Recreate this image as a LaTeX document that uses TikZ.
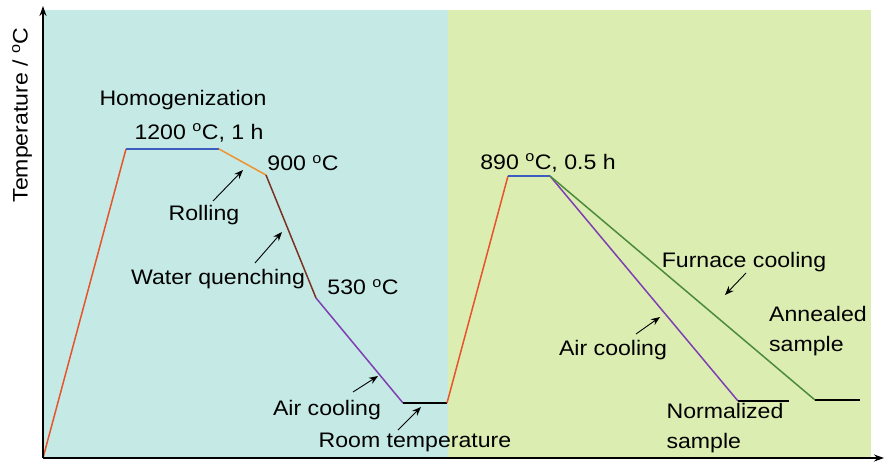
\documentclass[tikz,border=0pt]{standalone}
\usepackage{fontspec}
\setmainfont{Liberation Sans}[FakeStretch=1.1]
\usepackage{tikz}
\usetikzlibrary{positioning,arrows.meta}

\definecolor{bgcyan}{HTML}{C5EAE6}
\definecolor{bggreen}{HTML}{DCEDB1}
\definecolor{heatred}{HTML}{E8532B}
\definecolor{holdblue}{HTML}{3D5CC0}
\definecolor{rollorange}{HTML}{F0932F}
\definecolor{quenchbrown}{HTML}{7A3322}
\definecolor{airpurple}{HTML}{7E3FB2}
\definecolor{furngreen}{HTML}{4C8B3B}

\newcommand{\degC}{\textsuperscript{o}C}

\tikzset{
    lbl/.style={inner sep=0pt, font=\fontsize{21}{30}\selectfont},
    seg/.style={line width=1.5pt},
    pointer/.style={-{Stealth[length=9pt,width=7pt]}, line width=0.9pt},
    axis/.style={-{Stealth[length=10pt,width=7pt]}, line width=1.8pt}
}

\begin{document}
\begin{tikzpicture}[x=1pt,y=-1pt]
                \useasboundingbox (0,0) rectangle (886,471);

                % background of the two stages
                \fill[bgcyan]  (43,10) rectangle (448,458);
                \fill[bggreen] (448,10) rectangle (871,458);

                % corners of the schedule
                \coordinate (O)    at (43,458);
                \coordinate (H1)   at (126,149);
                \coordinate (H2)   at (219,149);
                \coordinate (R900) at (266,175);
                \coordinate (Q530) at (316,298);
                \coordinate (RT1)  at (403,403);
                \coordinate (RT2)  at (447,403);
                \coordinate (N1)   at (508,176);
                \coordinate (N2)   at (550,176);
                \coordinate (NA)   at (738,401);
                \coordinate (NB)   at (789,401);
                \coordinate (FA)   at (815,400);
                \coordinate (FB)   at (860,400);
                \coordinate (Ytop) at (43,6);
                \coordinate (Xend) at (884,458);

                \draw[seg, heatred]     (O) -- (H1);
                \draw[seg, holdblue]    (H1) -- (H2);
                \draw[seg, rollorange]  (H2) -- (R900);
                \draw[seg, quenchbrown] (R900) -- (Q530);
                \draw[seg, airpurple]   (Q530) -- (RT1);
                \draw[seg, black]       (RT1) -- (RT2);
                \draw[seg, heatred]     (RT2) -- (N1);
                \draw[seg, holdblue]    (N1) -- (N2);
                \draw[seg, airpurple]   (N2) -- (NA);
                \draw[seg, black]       (NA) -- (NB);
                \draw[seg, furngreen]   (N2) -- (FA);
                \draw[seg, black]       (FA) -- (FB);

                % axes
                \draw[axis] (O) -- (Ytop);
                \draw[axis] (O) -- (Xend);

                % labels
                \node[lbl, rotate=90] (ylabel) at (22,115)  {Temperature / \degC};
                \node[lbl] (homog)     at (183,100) {Homogenization};
                \node[lbl] (t1200)     at (199,133) {1200 \degC, 1 h};
                \node[lbl] (t900)      at (303,163) {900 \degC};
                \node[lbl] (rolling)   at (204,215) {Rolling};
                \node[lbl] (water)     at (218,279) {Water quenching};
                \node[lbl] (t530)      at (363,287) {530 \degC};
                \node[lbl] (aircool1)  at (327,410) {Air cooling};
                \node[lbl] (roomtemp)  at (415,442) {Room temperature};
                \node[lbl] (t890)      at (548,163) {890 \degC, 0.5 h};
                \node[lbl] (furnace)   at (744,262) {Furnace cooling};
                \node[lbl, align=left] (annealed)   at (818,331) {Annealed\\sample};
                \node[lbl] (aircool2)  at (613,350) {Air cooling};
                \node[lbl, align=left] (normalized) at (725,428) {Normalized\\sample};

                % pointer ends
                \coordinate (pRoll)  at (213,201);
                \coordinate (hRoll)  at (243,170);
                \coordinate (pWater) at (255,263);
                \coordinate (hWater) at (282,232);
                \coordinate (pAir1)  at (353,392);
                \coordinate (hAir1)  at (378,376);
                \coordinate (pRoom)  at (398,430);
                \coordinate (hRoom)  at (421,407);
                \coordinate (pFurn)  at (746,273);
                \coordinate (hFurn)  at (725,295);
                \coordinate (pAir2)  at (636,334);
                \coordinate (hAir2)  at (660,317);

                \path[pointer]
                (pRoll)  edge (hRoll)
                (pWater) edge (hWater)
                (pAir1)  edge (hAir1)
                (pRoom)  edge (hRoom)
                (pFurn)  edge (hFurn)
                (pAir2)  edge (hAir2);
            \end{tikzpicture}
\end{document}
